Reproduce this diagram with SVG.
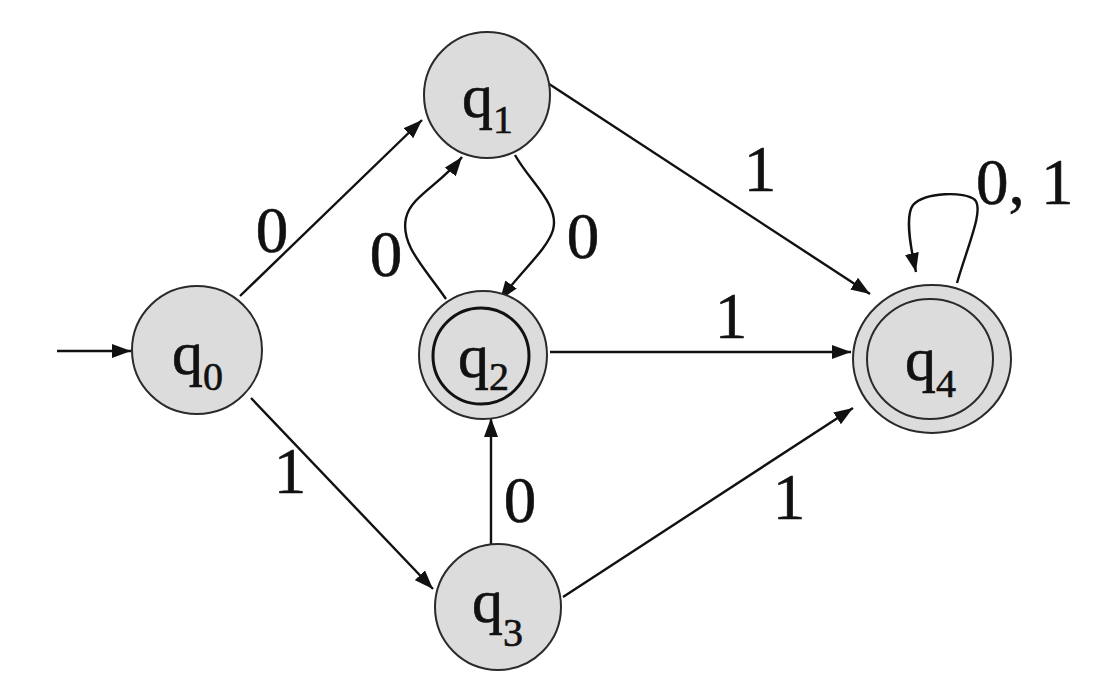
<svg xmlns="http://www.w3.org/2000/svg" width="1093" height="684" viewBox="0 0 1093 684">
<style>
.st{fill:#dcdcdc;stroke:#2a2a2a;stroke-width:2}
.in{fill:none;stroke:#2a2a2a;stroke-width:2}
.in2{fill:none;stroke:#111;stroke-width:3}
.q{font-size:62px;fill:#111;stroke:#111;stroke-width:0.6}
.sub{font-size:40px}
.lb{font-size:65px;fill:#111;stroke:#111;stroke-width:0.6;text-anchor:middle}
.e{fill:none;stroke:#111;stroke-width:2.4}
</style>
<defs>
<marker id="ah" markerUnits="userSpaceOnUse" markerWidth="19" markerHeight="14" refX="19" refY="7" orient="auto">
<path d="M0,0 L19,7 L0,14 z" fill="#111"/>
</marker>
</defs>
<rect width="1093" height="684" fill="#fff"/>
<g id="edges">
<line class="e" x1="57" y1="351" x2="131" y2="351" marker-end="url(#ah)"/>
<line class="e" x1="240" y1="296" x2="422" y2="120" marker-end="url(#ah)"/>
<line class="e" x1="251" y1="398" x2="433" y2="589" marker-end="url(#ah)"/>
<line class="e" x1="543" y1="80" x2="870" y2="294" marker-end="url(#ah)"/>
<line class="e" x1="550" y1="352" x2="851" y2="352" marker-end="url(#ah)"/>
<line class="e" x1="563" y1="597" x2="853" y2="408" marker-end="url(#ah)"/>
<line class="e" x1="491" y1="545" x2="491" y2="418" marker-end="url(#ah)"/>
<path class="e" d="M446,299 C425,268 400,245 406,218 C411,196 440,185 462,157" marker-end="url(#ah)"/>
<path class="e" d="M515,155 C530,182 560,205 553,230 C547,250 520,272 500,300" marker-end="url(#ah)"/>
<path class="e" d="M957,283 C968,245 984,210 975,200 C965,191 925,192 913,205 C905,216 910,245 916,272" marker-end="url(#ah)"/>
</g>
<g id="labels" font-family="'Liberation Serif', 'Times New Roman', 'DejaVu Serif', serif">
<text class="lb" x="272" y="252">0</text>
<text class="lb" x="290" y="493">1</text>
<text class="lb" x="386" y="276">0</text>
<text class="lb" x="583" y="258">0</text>
<text class="lb" x="760" y="191">1</text>
<text class="lb" x="731" y="338">1</text>
<text class="lb" x="789" y="519">1</text>
<text class="lb" x="520" y="522">0</text>
<text class="lb" x="976" y="204" style="text-anchor:start">0, 1</text>
</g>
<g font-family="'Liberation Serif', 'Times New Roman', 'DejaVu Serif', serif">
<g id="q0">
<ellipse class="st" cx="197" cy="350" rx="65" ry="64"/>
<text class="q" x="172" y="374">q<tspan class="sub" dy="16">0</tspan></text>
</g>
<g id="q1">
<circle class="st" cx="487" cy="95" r="63"/>
<text class="q" x="462" y="117">q<tspan class="sub" dy="16">1</tspan></text>
</g>
<g id="q2">
<circle class="st" cx="483" cy="355" r="64"/>
<circle class="in2" cx="481" cy="356" r="48"/>
<text class="q" x="458" y="377">q<tspan class="sub" dy="13">2</tspan></text>
</g>
<g id="q3">
<circle class="st" cx="498" cy="607" r="63"/>
<text class="q" x="472" y="622">q<tspan class="sub" dy="24">3</tspan></text>
</g>
<g id="q4">
<ellipse class="st" cx="932" cy="359" rx="79" ry="74"/>
<ellipse class="in" cx="930" cy="359" rx="63" ry="60"/>
<text class="q" x="905" y="380">q<tspan class="sub" dy="17">4</tspan></text>
</g>
</g>
</svg>
